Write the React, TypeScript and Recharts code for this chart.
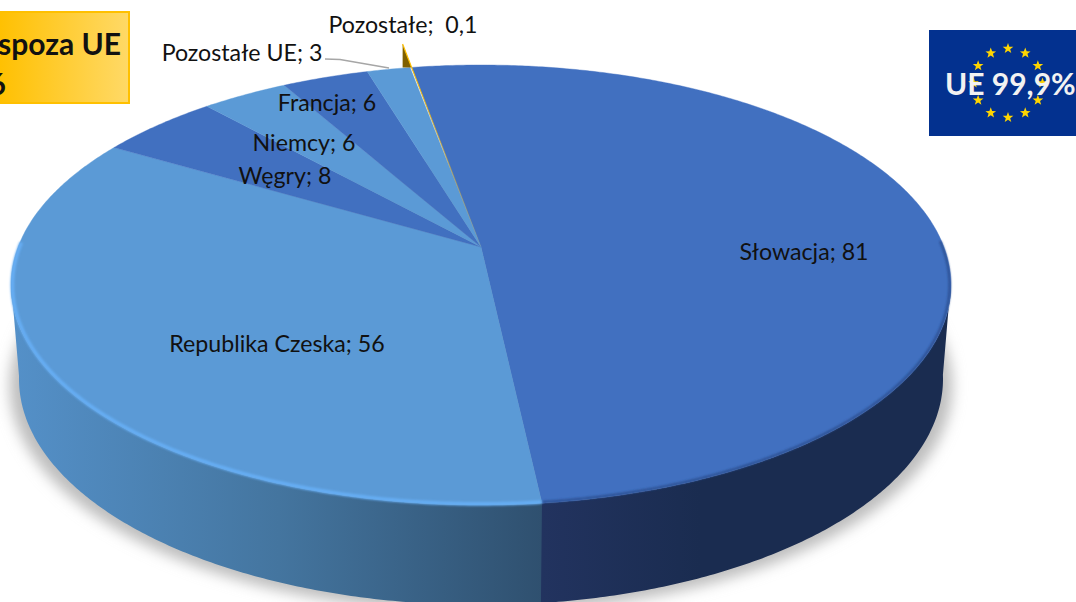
import React from 'react';
import { PieChart, Pie } from 'recharts';

const categories = ['Słowacja', 'Republika Czeska', 'Węgry', 'Niemcy', 'Francja', 'Pozostałe UE', 'Pozostałe'];
// labels are rounded, the slices show the finer values
const values = [81.4, 56.1, 7.8, 5.6, 5.6, 2.8, 0.1];
const valueLabels = ['81', '56', '8', '6', '6', '3', ' 0,1'];

const data = categories.map((name, i) => ({ name, value: values[i], shown: valueLabels[i] }));

const WIDTH = 1076;
const HEIGHT = 602;
const CX = 481;
const CY = 285;
const RX = 470;
const RY = 220;
const APEX_SHIFT = -0.173; // the pie centre sits above the middle of the ellipse (perspective)
const WALL_CY = 379;
const WALL_RX = 462;
const WALL_RY = 226;

const topColors = ['#4170C0', '#5B9AD6', '#4170C0', '#5B9AD6', '#4170C0', '#5B9AD6', '#FFC000'];
const labelAnchors: Record<string, [number, number]> = {
    Słowacja: [804, 251],
    'Republika Czeska': [277, 343],
    Węgry: [285, 175],
    Niemcy: [304, 142],
    Francja: [327, 102],
    'Pozostałe UE': [242, 52],
    Pozostałe: [403, 24],
};

// pie angle (recharts degrees) -> position on the unit circle of the ellipse
const project = (deg: number) => {
    const a = (deg * Math.PI) / 180;
    const u = Math.cos(a);
    const v = -Math.sin(a);
    const k = 1 + APEX_SHIFT * v;
    return { x: (u * Math.sqrt(1 - APEX_SHIFT * APEX_SHIFT)) / k, y: (v + APEX_SHIFT) / k };
};

const topPoint = (deg: number) => {
    const p = project(deg);
    return { x: CX + RX * p.x, y: CY + RY * p.y };
};

const wallPoint = (deg: number) => {
    const p = project(deg);
    return { x: CX + WALL_RX * p.x, y: WALL_CY + WALL_RY * p.y };
};

const apex = { x: CX, y: CY + RY * APEX_SHIFT };

// sweep clockwise, always ending exactly on the slice edge
const sweep = (startAngle: number, endAngle: number) => {
    const out: number[] = [];
    for (let d = startAngle; d > endAngle; d -= 0.5) out.push(d);
    out.push(endAngle);
    return out;
};

const TopSector = (props: any) => {
    const { startAngle, endAngle, index } = props;
    const pts = sweep(startAngle, endAngle).map((d) => {
        const p = topPoint(d);
        return `${p.x},${p.y}`;
    });
    const end = topPoint(endAngle);
    if (index === categories.length - 1) {
        // the tiny slice pokes out past the rim
        const tip = { x: apex.x + (end.x - apex.x) * 1.13, y: apex.y + (end.y - apex.y) * 1.13 };
        return (
            <g>
                <path d={`M${tip.x},${tip.y} L${tip.x},${end.y} L${end.x},${end.y} Z`} fill="#7F6000" />
                <path d={`M${tip.x},${tip.y} L${end.x},${end.y}`} stroke="#FFC000" strokeWidth={1.2} fill="none" />
                <path d={`M${apex.x},${apex.y} L${end.x},${end.y}`} stroke="url(#sliver)" strokeWidth={1.1} fill="none" />
            </g>
        );
    }
    return <path d={`M${apex.x},${apex.y} L${pts.join(' L')} Z`} fill={topColors[index]} stroke={topColors[index]} strokeWidth={0.4} />;
};

const wallPath = (startAngle: number, endAngle: number) => {
    const top: string[] = [];
    const bottom: string[] = [];
    sweep(startAngle, endAngle).forEach((d) => {
        if (project(d).y < -0.02) return;
        const p = topPoint(d);
        const q = wallPoint(d);
        top.push(`${p.x},${p.y}`);
        bottom.unshift(`${q.x},${q.y}`);
    });
    if (!top.length) return '';
    return `M${top.join(' L')} L${bottom.join(' L')} Z`;
};

const WallSector = (props: any) => {
    const { startAngle, endAngle, index } = props;
    // the dark wall runs on a little under the lighter one, so no seam shows
    const d = wallPath(startAngle, index === 0 ? endAngle - 0.5 : endAngle);
    if (!d) return null;
    return <path d={d} fill={index === 0 ? 'url(#wallDark)' : 'url(#wallLight)'} />;
};

// one blurred disc under the whole pie, drawn once from the first slice
const ShadowSector = (props: any) => {
    const { startAngle, index } = props;
    if (index !== 0) return null;
    const pts = sweep(startAngle, startAngle - 360).map((d) => {
        const q = wallPoint(d);
        return `${CX + (q.x - CX) * 1.02},${q.y + 7}`;
    });
    return <path d={`M${pts.join(' L')} Z`} fill="#bdbdbd" filter="url(#softShadow)" />;
};

const RimSector = (props: any) => {
    const { startAngle, endAngle, index } = props;
    if (index > 1) return null;
    const pts: string[] = [];
    sweep(startAngle, endAngle).forEach((d) => {
        if (project(d).y < -0.2) return;
        const p = topPoint(d);
        pts.push(`${CX + (p.x - CX) * 0.997},${CY + (p.y - CY) * 0.995}`);
    });
    return (
        <path
            d={`M${pts.join(' L')}`}
            fill="none"
            stroke={index === 0 ? '#2A4C8C' : '#66AEF4'}
            strokeWidth={index === 0 ? 2 : 3.6}
            filter="url(#rimBlur)"
        />
    );
};

const renderLabel = (props: any) => {
    const { name, payload } = props;
    const [x, y] = labelAnchors[name];
    return (
        <text
            x={x}
            y={y}
            textAnchor="middle"
            dominantBaseline="central"
            fontFamily="Lato, sans-serif"
            fontSize={23.2}
            fill="#111"
            style={{ whiteSpace: 'pre' }}
        >
            {`${name}; ${payload.shown}`}
        </text>
    );
};

const pieProps = {
    data,
    dataKey: 'value',
    nameKey: 'name',
    cx: CX,
    cy: CY,
    outerRadius: RX,
    startAngle: 100.1,
    endAngle: -259.9,
    paddingAngle: 0,
    stroke: 'none',
    isAnimationActive: false,
    legendType: 'none' as const,
};

const stars = Array.from({ length: 12 }, (_, i) => i);

const Star = ({ x, y }: { x: number; y: number }) => {
    const pts: string[] = [];
    for (let i = 0; i < 10; i++) {
        const r = i % 2 === 0 ? 5.6 : 2.3;
        const a = (Math.PI * i) / 5 - Math.PI / 2;
        pts.push(`${x + r * Math.cos(a)},${y + r * Math.sin(a)}`);
    }
    return <polygon points={pts.join(' ')} fill="#FFD500" />;
};

export default function App() {
    return (
        <div style={{ position: 'absolute', left: 0, top: 0, width: WIDTH, height: HEIGHT, overflow: 'hidden', background: '#fff' }}>
            <PieChart width={WIDTH} height={HEIGHT} margin={{ top: 0, right: 0, bottom: 0, left: 0 }}>
                <defs>
                    <linearGradient id="wallLight" gradientUnits="userSpaceOnUse" x1={15} y1={0} x2={542} y2={0}>
                        <stop offset="0%" stopColor="#5490C8" />
                        <stop offset="50%" stopColor="#44759F" />
                        <stop offset="100%" stopColor="#2F506F" />
                    </linearGradient>
                    <linearGradient id="wallDark" gradientUnits="userSpaceOnUse" x1={542} y1={0} x2={700} y2={0}>
                        <stop offset="0%" stopColor="#22335F" />
                        <stop offset="100%" stopColor="#1A2C50" />
                    </linearGradient>
                    <linearGradient id="sliver" x1="1" y1="1" x2="0" y2="0">
                        <stop offset="0%" stopColor="#C9A02A" stopOpacity={0.1} />
                        <stop offset="100%" stopColor="#FFC000" stopOpacity={1} />
                    </linearGradient>
                    <filter id="softShadow" x="-10%" y="-10%" width="120%" height="120%">
                        <feGaussianBlur stdDeviation="7" />
                    </filter>
                    <filter id="rimBlur" x="-5%" y="-5%" width="110%" height="110%">
                        <feGaussianBlur stdDeviation="0.8" />
                    </filter>
                </defs>
                <Pie {...pieProps} shape={ShadowSector} />
                <Pie {...pieProps} shape={WallSector} />
                <Pie {...pieProps} shape={TopSector} label={renderLabel} labelLine={false} />
                <Pie {...pieProps} shape={RimSector} />
            </PieChart>

            {/* leader line for Pozostałe UE */}
            <svg width={WIDTH} height={HEIGHT} style={{ position: 'absolute', left: 0, top: 0, pointerEvents: 'none' }}>
                <polyline points="325,59 340,59.5 389,68" fill="none" stroke="#A6A6A6" strokeWidth={1.5} />
            </svg>

            {/* box outside the EU, cut off by the left edge of the picture */}
            <div
                style={{
                    position: 'absolute',
                    left: -60,
                    top: 11,
                    width: 186,
                    height: 89,
                    border: '2px solid #FFC000',
                    background: 'linear-gradient(90deg, #FFC000 30%, #FFD966 100%)',
                    fontFamily: 'Lato, sans-serif',
                    fontWeight: 700,
                    fontSize: 30,
                    color: '#111',
                }}
            >
                <div style={{ position: 'absolute', right: 7, top: 10, whiteSpace: 'nowrap', lineHeight: '40px' }}>Kraje spoza UE</div>
                <div style={{ position: 'absolute', right: 122, top: 50, whiteSpace: 'nowrap', lineHeight: '40px' }}>0,06</div>
            </div>

            {/* EU flag */}
            <div style={{ position: 'absolute', left: 929, top: 30, width: 147, height: 106, background: '#03318F' }}>
                <svg width={147} height={106} style={{ position: 'absolute', left: 0, top: 0 }}>
                    {stars.map((i) => (
                        <Star
                            key={i}
                            x={79 + 34.5 * Math.sin((i * Math.PI) / 6)}
                            y={53 - 34.5 * Math.cos((i * Math.PI) / 6)}
                        />
                    ))}
                </svg>
                <div
                    style={{
                        position: 'absolute',
                        left: 16,
                        top: 35,
                        fontFamily: 'Lato, sans-serif',
                        fontWeight: 700,
                        fontSize: 30,
                        lineHeight: '36px',
                        color: '#F2F2F2',
                        whiteSpace: 'nowrap',
                    }}
                >
                    UE 99,9%
                </div>
            </div>
        </div>
    );
}
